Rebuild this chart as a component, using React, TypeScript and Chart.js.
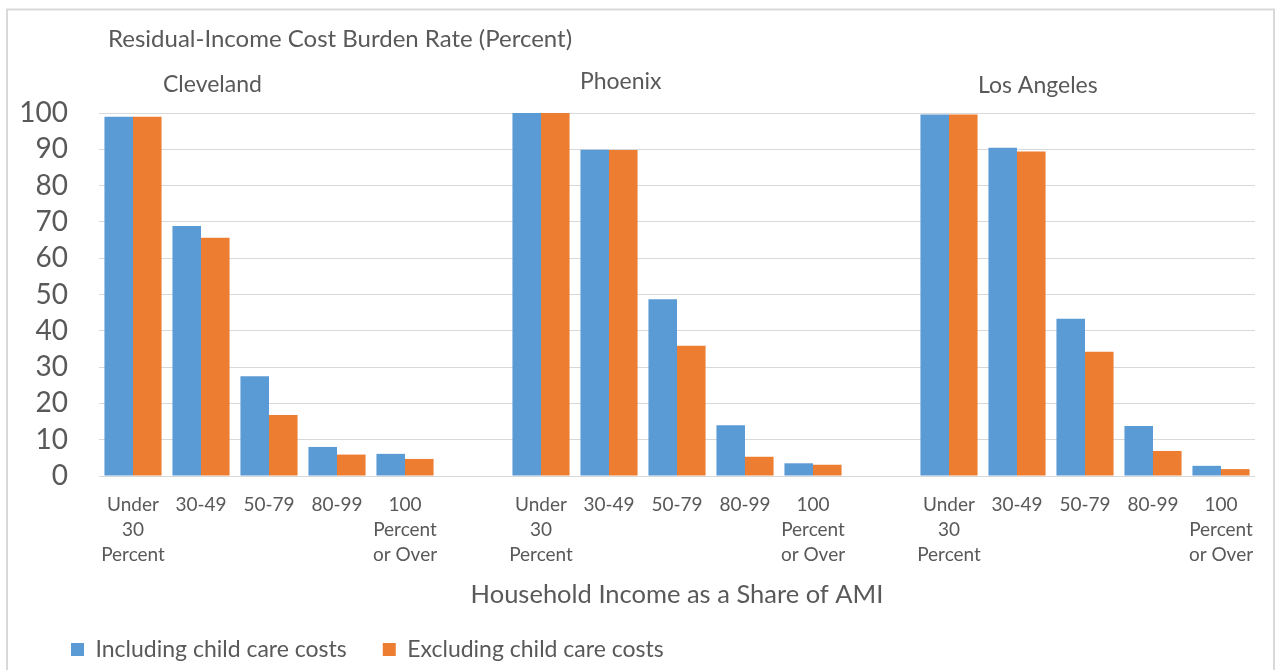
import React, { useEffect, useRef } from "react";
import { Chart, registerables } from "chart.js";

Chart.register(...registerables);

const chartTitle = "Residual-Income Cost Burden Rate (Percent)";
const xAxisTitle = "Household Income as a Share of AMI";
const cities = ["Cleveland", "Phoenix", "Los Angeles"];
const incomeBands: (string | string[])[] = [
  ["Under", "30", "Percent"],
  "30-49",
  "50-79",
  "80-99",
  ["100", "Percent", "or Over"],
];
const seriesNames = ["Including child care costs", "Excluding child care costs"];

const clevelandIncluding = [99.0, 68.9, 27.5, 8.0, 6.1];
const clevelandExcluding = [99.0, 65.6, 16.8, 5.9, 4.7];
const phoenixIncluding = [100, 89.9, 48.7, 14.0, 3.5];
const phoenixExcluding = [100, 89.8, 35.9, 5.3, 3.1];
const laIncluding = [99.6, 90.4, 43.3, 13.8, 2.8];
const laExcluding = [99.6, 89.4, 34.2, 6.9, 1.9];

const yTicks = [0, 10, 20, 30, 40, 50, 60, 70, 80, 90, 100];

const BLUE = "#5B9BD5";
const ORANGE = "#ED7D31";
const TEXT = "#595959";
const GRID = "#D9D9D9";
const FONT = "Lato, 'Open Sans', sans-serif";

function withGaps(groups: number[][]): (number | null)[] {
  const out: (number | null)[] = [];
  groups.forEach((g, i) => {
    if (i > 0) out.push(null);
    out.push(...g);
  });
  return out;
}

function labelsWithGaps(): (string | string[])[] {
  const out: (string | string[])[] = [];
  cities.forEach((_, i) => {
    if (i > 0) out.push("");
    out.push(...incomeBands);
  });
  return out;
}

// city label placement: left x and baseline y
const cityLabelPos = [
  { x: 163, y: 92 },
  { x: 580, y: 89 },
  { x: 978, y: 93 },
];

const overlayPlugin = {
  id: "overlay",
  afterLayout(chart: any) {
    if (chart.legend) {
      chart.legend.left = 35;
      chart.legend.top += 1;
    }
  },
  beforeDraw(chart: any) {
    const ctx = chart.ctx;
    ctx.save();
    ctx.strokeStyle = GRID;
    ctx.lineWidth = 2;
    ctx.beginPath();
    ctx.moveTo(7, 672);
    ctx.lineTo(7, 9.5);
    ctx.lineTo(1274, 9.5);
    ctx.lineTo(1274, 672);
    ctx.stroke();
    ctx.restore();
  },
  afterDraw(chart: any) {
    const ctx = chart.ctx;
    ctx.save();
    ctx.fillStyle = TEXT;
    ctx.textBaseline = "alphabetic";
    ctx.textAlign = "left";
    ctx.font = `24px ${FONT}`;
    ctx.fillText(chartTitle, 108, 47);
    ctx.font = `23px ${FONT}`;
    cities.forEach((c, i) => {
      ctx.fillText(c, cityLabelPos[i].x, cityLabelPos[i].y);
    });
    ctx.restore();
  },
};

export default function App() {
  const ref = useRef<HTMLCanvasElement | null>(null);

  useEffect(() => {
    if (!ref.current) return;
    const chart = new Chart(ref.current, {
      type: "bar",
      data: {
        labels: labelsWithGaps(),
        datasets: [
          {
            label: seriesNames[0],
            data: withGaps([clevelandIncluding, phoenixIncluding, laIncluding]),
            backgroundColor: BLUE,
            borderWidth: 0,
          },
          {
            label: seriesNames[1],
            data: withGaps([clevelandExcluding, phoenixExcluding, laExcluding]),
            backgroundColor: ORANGE,
            borderWidth: 0,
          },
        ],
      },
      options: {
        responsive: false,
        animation: false,
        layout: { padding: { top: 113, left: 8, right: 21, bottom: 0 } },
        datasets: { bar: { categoryPercentage: 0.84, barPercentage: 1 } },
        plugins: {
          tooltip: { enabled: false },
          legend: {
            position: "bottom",
            align: "start",
            labels: {
              boxWidth: 13,
              boxHeight: 13,
              padding: 36,
              color: TEXT,
              font: { family: FONT, size: 23 },
            },
          },
        },
        scales: {
          x: {
            grid: { display: false },
            border: { display: false },
            ticks: {
              color: TEXT,
              font: { family: FONT, size: 19, lineHeight: 1.32 },
              padding: 8,
              autoSkip: false,
              maxRotation: 0,
            },
            title: {
              display: true,
              text: xAxisTitle,
              color: TEXT,
              font: { family: FONT, size: 25.5 },
              padding: { top: 0, bottom: -9 },
            },
            afterFit: (s: any) => {
              s.height = 125;
            },
          },
          y: {
            min: 0,
            max: 100,
            afterBuildTicks: (s: any) => {
              s.ticks = yTicks.map((v) => ({ value: v }));
            },
            ticks: {
              color: TEXT,
              font: { family: FONT, size: 28 },
              padding: 31,
              autoSkip: false,
            },
            grid: { color: GRID, lineWidth: 1, drawTicks: false },
            border: { display: false },
            afterFit: (s: any) => {
              s.width = 91;
            },
          },
        },
      },
      plugins: [overlayPlugin],
    });
    return () => chart.destroy();
  }, []);

  return (
    <div style={{ position: "absolute", left: 0, top: 0, width: 1276, height: 670 }}>
      <canvas ref={ref} width={1276} height={670} style={{ display: "block" }} />
    </div>
  );
}
